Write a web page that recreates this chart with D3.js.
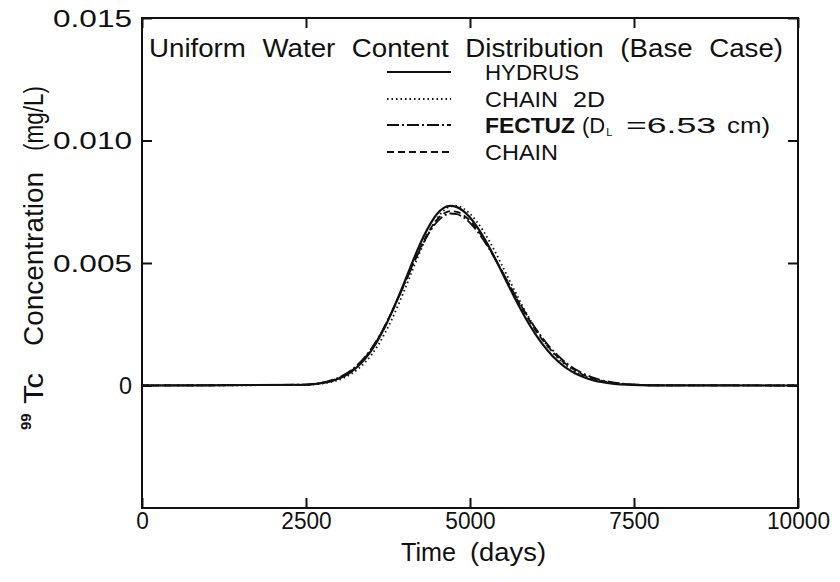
<!DOCTYPE html>
<html><head><meta charset="utf-8">
<script src="https://cdn.jsdelivr.net/npm/d3@7"></script>
<style>body{margin:0;background:#fff}text{font-family:"Liberation Sans",Arial,sans-serif;fill:#111}</style>
</head><body><svg id="c" width="840" height="582"></svg>
<script>
const times = [0,2500,2600,2700,2800,2900,3000,3100,3200,3300,3400,3500,3600,3700,3800,3900,4000,4100,4200,4300,4400,4500,4600,4700,4800,4900,5000,5100,5200,5300,5400,5500,5600,5700,5800,5900,6000,6100,6200,6300,6400,6500,6600,6700,6800,6900,7000,7200,7400,7600,7800,10000];
const hydrus = [0,.0000315,.0000509,.0000807,.000125,.00019,.000282,.000409,.000581,.000805,.001091,.001446,.001874,.002375,.002942,.003562,.004219,.004885,.00553,.00612,.00662,.00701,.00725,.00733,.00728,.00712,.00686,.00651,.00609,.00561,.00509,.00455,.00401,.00348,.00298,.00251,.00209,.00171,.00138,.00109,.000855,.000659,.000501,.000375,.000276,.0002,.000143,.00007,.000032,.000014,.000005,0];
const chain2d = [0,.000022,.00004,.000065,.000101,.000155,.000233,.000342,.00049,.000687,.000943,.00126,.00165,.00212,.00265,.00325,.00389,.00455,.00521,.00583,.00637,.00682,.00714,.00731,.00733,.00722,.00701,.0067,.00632,.00587,.00537,.00484,.0043,.00377,.00325,.00276,.00232,.00192,.00155,.00124,.00097,.00076,.00058,.00044,.00033,.00024,.00017,.00009,.00004,.000018,.000007,0];
const fectuz = [0,.00004,.000065,.0001,.000152,.000226,.000328,.000466,.000648,.000882,.00117,.00152,.00194,.00242,.00295,.00353,.00413,.00474,.00533,.00587,.00633,.00669,.00692,.00702,.00699,.00686,.00664,.00633,.00596,.00554,.00508,.0046,.00411,.00363,.00317,.00273,.00233,.00196,.00162,.00133,.00107,.00085,.00067,.00052,.0004,.0003,.00022,.00012,.00006,.00003,.00001,0];
const chain = [0,.00003,.000055,.00009,.00014,.00021,.00031,.00044,.00062,.00085,.00114,.0015,.00192,.00241,.00296,.00355,.00416,.00478,.00538,.00593,.00641,.00678,.00702,.00712,.00709,.00695,.00672,.0064,.00602,.00558,.0051,.0046,.0041,.0036,.00312,.00267,.00225,.00188,.00155,.00126,.00101,.0008,.00062,.00047,.00036,.00027,.0002,.0001,.00005,.00002,.00001,0];
const xTicks = [0,2500,5000,7500,10000];
const xTickLabels = ["0","2500","5000","7500","10000"];
const yTicks = [0,0.005,0.010,0.015];
const yTickLabels = ["0","0.005","0.010","0.015"];
const seriesNames = ["HYDRUS","CHAIN 2D","FECTUZ","CHAIN"];

const svg = d3.select("#c");
const L=142,R=798,T=18,B=508;
const x = d3.scaleLinear().domain([0,10000]).range([L,R]);
const y = d3.scaleLinear().domain([-0.005,0.015]).range([B,T]);
const dashes = ["none","1.5,3","12,3,2,3","7,4"];
const data = [hydrus,chain2d,fectuz,chain];

const g = svg.append("g");
const line = d3.line().x((d,i)=>x(times[i])).y(d=>y(d)).curve(d3.curveMonotoneX);
data.forEach((s,k)=>{
  g.append("path").attr("d",line(s)).attr("fill","none").attr("stroke","#111")
   .attr("stroke-width",k==0?2.2:1.8).attr("stroke-dasharray",dashes[k]);
});

svg.append("rect").attr("x",L).attr("y",T).attr("width",R-L).attr("height",B-T)
  .attr("fill","none").attr("stroke","#111").attr("stroke-width",2);

const tl=10;
const axB = d3.axisBottom(x).tickValues(xTicks).tickSize(-tl).tickFormat((d,i)=>xTickLabels[i]).tickPadding(5);
const gb = svg.append("g").attr("transform",`translate(0,${B})`).call(axB);
const axT = d3.axisTop(x).tickValues(xTicks).tickSize(-tl).tickFormat("");
const gt = svg.append("g").attr("transform",`translate(0,${T})`).call(axT);
const axL = d3.axisLeft(y).tickValues(yTicks).tickSize(-tl).tickFormat((d,i)=>yTickLabels[i]).tickPadding(10);
const gl = svg.append("g").attr("transform",`translate(${L},0)`).call(axL);
const axR = d3.axisRight(y).tickValues(yTicks).tickSize(-tl).tickFormat("");
const gr = svg.append("g").attr("transform",`translate(${R},0)`).call(axR);
[gb,gt,gl,gr].forEach(a=>{a.select(".domain").remove();a.selectAll(".tick line").attr("stroke","#111").attr("stroke-width",2);
  a.selectAll("text").attr("font-family","Liberation Sans, Arial, sans-serif").attr("font-size",23).attr("fill","#111");});
gb.selectAll("text").attr("dy","0.71em").each(function(d,i){ d3.select(this).attr("textLength",xTickLabels[i].length*12.6).attr("lengthAdjust","spacingAndGlyphs"); });
gl.selectAll("text").attr("dy","0.36em").each(function(d,i){ if(yTickLabels[i].length>1) d3.select(this).attr("textLength",79).attr("lengthAdjust","spacingAndGlyphs"); else d3.select(this).attr("textLength",13).attr("lengthAdjust","spacingAndGlyphs"); });

// x title
const xt = svg.append("text").attr("y",561).attr("font-size",26);
xt.append("tspan").attr("x",401).attr("textLength",55).attr("lengthAdjust","spacingAndGlyphs").text("Time");
xt.append("tspan").attr("x",470).attr("textLength",76).attr("lengthAdjust","spacingAndGlyphs").text("(days)");

// y title (rotated)
const yt = svg.append("text").attr("transform","translate(43,0) rotate(-90)").attr("font-size",27);
yt.append("tspan").attr("x",-430).attr("dy",-12).attr("font-size",15).attr("font-weight","bold").text("99");
yt.append("tspan").attr("x",-404).attr("dy",12).attr("textLength",31).attr("lengthAdjust","spacingAndGlyphs").text("Tc");
yt.append("tspan").attr("x",-346).attr("textLength",174).attr("lengthAdjust","spacingAndGlyphs").text("Concentration");
yt.append("tspan").attr("x",-151).attr("textLength",65).attr("lengthAdjust","spacingAndGlyphs").text("(mg/L)");

// title
svg.append("text").attr("x",149).attr("y",57).attr("font-size",25).attr("word-spacing",8).attr("textLength",634).attr("lengthAdjust","spacingAndGlyphs").text("Uniform Water Content Distribution (Base Case)");

// legend
const ly=[72,99,125,152];
const lx=485;
seriesNames.forEach((n,k)=>{
  svg.append("line").attr("x1",387).attr("x2",451).attr("y1",ly[k]).attr("y2",ly[k]).attr("stroke","#111").attr("stroke-width",2).attr("stroke-dasharray",dashes[k]);
});
svg.append("text").attr("x",lx).attr("y",ly[0]+8).attr("font-size",22).attr("textLength",94).attr("lengthAdjust","spacingAndGlyphs").text("HYDRUS");
const c2 = svg.append("text").attr("y",ly[1]+8).attr("font-size",22);
c2.append("tspan").attr("x",lx).attr("textLength",73).attr("lengthAdjust","spacingAndGlyphs").text("CHAIN");
c2.append("tspan").attr("x",573).attr("textLength",32).attr("lengthAdjust","spacingAndGlyphs").text("2D");
const ft = svg.append("text").attr("y",ly[2]+8).attr("font-size",22);
ft.append("tspan").attr("x",lx).attr("font-weight","bold").attr("textLength",90).attr("lengthAdjust","spacingAndGlyphs").text("FECTUZ");
ft.append("tspan").attr("x",582).text("(D");
ft.append("tspan").attr("font-size",11).attr("dy",3).attr("dx",1).text("L");
ft.append("tspan").attr("x",626).attr("dy",-3).attr("textLength",90).attr("lengthAdjust","spacingAndGlyphs").text("=6.53");
ft.append("tspan").attr("x",727).attr("textLength",43).attr("lengthAdjust","spacingAndGlyphs").text("cm)");
svg.append("text").attr("x",lx).attr("y",ly[3]+8).attr("font-size",22).attr("textLength",73).attr("lengthAdjust","spacingAndGlyphs").text("CHAIN");
</script></body></html>
